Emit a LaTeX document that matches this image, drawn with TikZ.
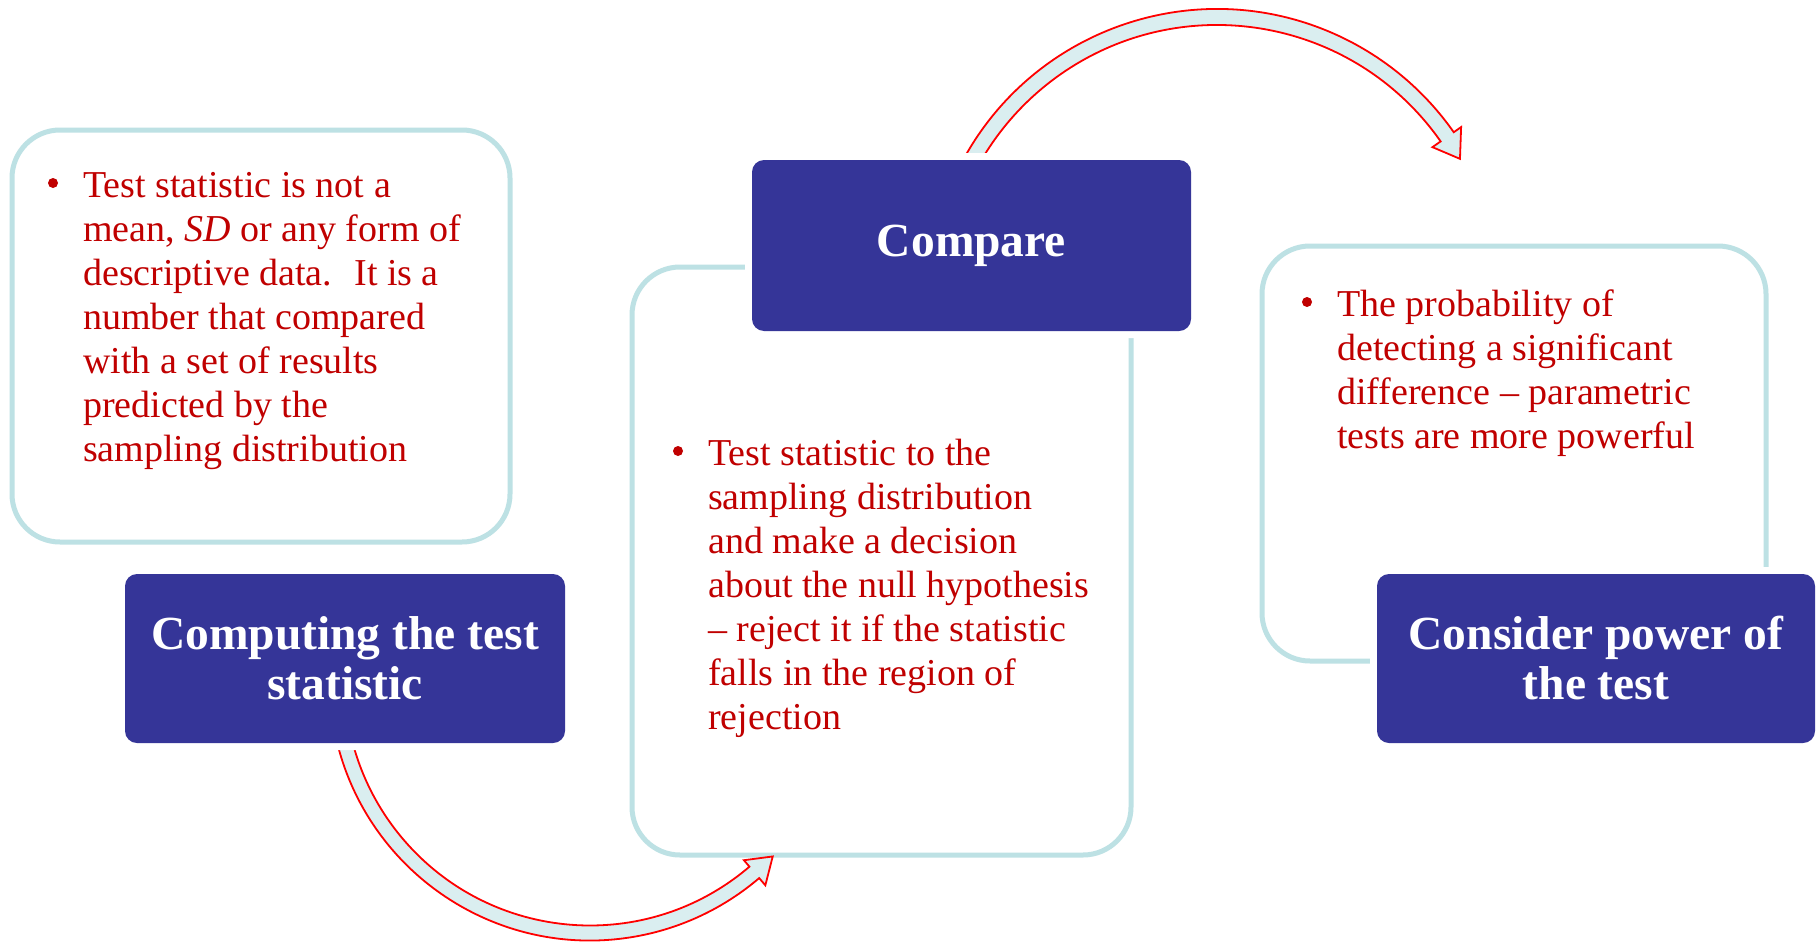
\documentclass[tikz,border=0pt]{standalone}
\usepackage{fontspec}
\setmainfont{Liberation Serif}
\usetikzlibrary{calc}
\definecolor{boxblue}{RGB}{53,53,152}
\definecolor{edgeblue}{RGB}{189,225,228}
\definecolor{bandfill}{RGB}{218,238,240}
\definecolor{txtred}{RGB}{192,0,0}
\definecolor{bandred}{RGB}{255,0,0}
\begin{document}
\begin{tikzpicture}[x=1pt,y=1pt,
  whitebox/.style={draw=edgeblue, line width=5pt, rounded corners=48pt, fill=white, inner sep=0pt, outer sep=0pt},
  darkbox/.style={fill=boxblue, rounded corners=12pt, inner sep=0pt, outer sep=0pt,
    preaction={draw=white, line width=14pt},
    text=white, align=center, font=\bfseries\fontsize{47.5}{50}\selectfont},
  bodytext/.style={anchor=base west, inner sep=0pt, text=txtred, font=\fontsize{38}{44}\selectfont},
  bulletdot/.style={fill=txtred},
  band/.style={fill=bandfill, draw=bandred, line width=1.8pt, line join=miter}]
\fill[white] (0,0) rectangle (1819,-942);
\useasboundingbox (0,0) rectangle (1819,-942);

% white text boxes
\node[whitebox, minimum width=498pt, minimum height=412pt] (b1) at (261,-336) {};
\node[whitebox, minimum width=499pt, minimum height=588pt] (b2) at (881.5,-561) {};
\node[whitebox, minimum width=504pt, minimum height=415pt] (b3) at (1514,-453.5) {};

% bullets and texts
\fill[bulletdot] (53,-183) circle (5);
\node[bodytext] (t1) at (83,-197) {\begin{tabular}[t]{@{}l@{}}Test statistic is not a\\ mean, \textit{SD} or any form of\\ descriptive data.~ It is a\\ number that compared\\ with a set of results\\ predicted by the\\ sampling distribution\end{tabular}};

\fill[bulletdot] (678,-451) circle (5);
\node[bodytext] (t2) at (708,-465) {\begin{tabular}[t]{@{}l@{}}Test statistic to the\\ sampling distribution\\ and make a decision\\ about the null hypothesis\\ – reject it if the statistic\\ falls in the region of\\ rejection\end{tabular}};

\fill[bulletdot] (1307,-302) circle (5);
\node[bodytext] (t3) at (1337,-316) {\begin{tabular}[t]{@{}l@{}}The probability of\\ detecting a significant\\ difference – parametric\\ tests are more powerful\end{tabular}};

% curved arrows
\coordinate (c1) at (590,-680);
\coordinate (c2) at (1217,-298);
\draw[band] ($(c1)+(190:260.5)$) arc[start angle=190, end angle=310.5, radius=260.5]
  -- ($(c1)+(310.5:270)$) -- ($(c1)+(316:254)$) -- ($(c1)+(310.5:237)$)
  -- ($(c1)+(310.5:245.5)$) arc[start angle=310.5, end angle=190, radius=245.5] -- cycle;
\draw[band] ($(c2)+(155:289)$) arc[start angle=155, end angle=35, radius=289]
  -- ($(c2)+(35:298)$) -- ($(c2)+(29.8:280)$) -- ($(c2)+(35:263)$)
  -- ($(c2)+(35:273)$) arc[start angle=35, end angle=155, radius=273] -- cycle;

% dark step boxes
\node[darkbox, minimum width=440pt, minimum height=169pt] (d1) at (345,-658.5) {Computing the test\\statistic};
\node[darkbox, minimum width=439pt, minimum height=171pt] (d2) at (971.5,-245.5) {Compare};
\node[darkbox, minimum width=438pt, minimum height=169pt] (d3) at (1596,-658.5) {Consider power of\\the test};
\end{tikzpicture}
\end{document}
